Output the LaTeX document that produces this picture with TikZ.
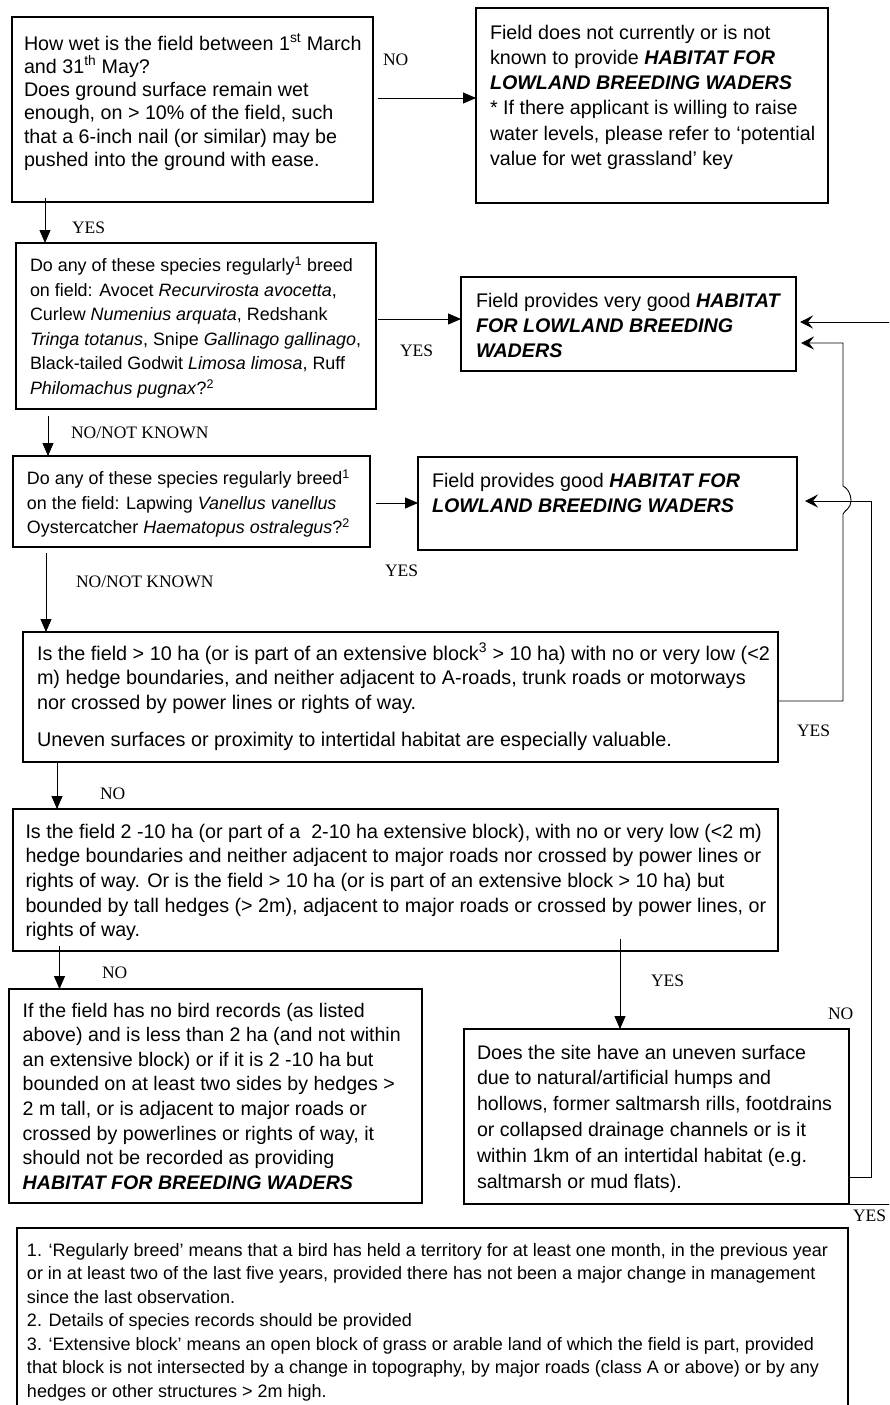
\documentclass[tikz,border=0pt]{standalone}
\usepackage{fontspec}
\setmainfont{Liberation Sans}
\newfontfamily\serifl{Liberation Serif}
\usetikzlibrary{arrows.meta,calc}
\newcommand{\HB}[1]{\textbf{\textit{#1}}}
\newcommand{\fsz}[2]{\fontsize{#1}{#2}\selectfont}
\tikzset{
  box/.style={draw=black, line width=1.1pt, inner sep=0pt, outer sep=0pt, anchor=north west},
  txt/.style={inner sep=0pt, outer sep=0pt, align=left, anchor=base west},
  lbl/.style={inner sep=0pt, outer sep=0pt, anchor=base west, font=\serifl\fsz{17.5}{20}},
  conn/.style={line width=0.9pt, draw=black},
  tri/.style={conn, -{Triangle[length=13pt,width=11pt]}},
  stl/.style={conn, -{Stealth[length=13pt,width=13pt,inset=5pt]}}
}
\begin{document}
\begin{tikzpicture}[x=1pt,y=-1pt]
\useasboundingbox (0,0) rectangle (889,1405);
\clip (0,0) rectangle (889,1405);
\fill[white] (0,0) rectangle (889,1405);

% boxes
\node[box, minimum width=361pt, minimum height=185pt] (b1) at (12,17) {};
\node[box, minimum width=352pt, minimum height=195pt] (b2) at (476,8) {};
\node[box, minimum width=360pt, minimum height=166pt] (b3) at (16,243) {};
\node[box, minimum width=335pt, minimum height=94pt] (b4) at (461,277) {};
\node[box, minimum width=357pt, minimum height=91pt] (b5) at (13,456) {};
\node[box, minimum width=379pt, minimum height=93pt] (b6) at (418,457) {};
\node[box, minimum width=755pt, minimum height=130pt] (b7) at (23,632) {};
\node[box, minimum width=765pt, minimum height=142pt] (b9) at (13,809) {};
\node[box, minimum width=413pt, minimum height=214pt] (b10) at (9,989) {};
\node[box, minimum width=385pt, minimum height=175pt] (b8) at (464,1029) {};
\node[box, minimum width=831pt, minimum height=220pt] (fn) at (17,1228) {};

% texts (anchor = baseline of the last line)
\node[txt, font=\fsz{19.7}{23.3}] (t1) at (24,166.5) {How wet is the field between 1\textsuperscript{st} March\\
and 31\textsuperscript{th} May?\\
Does ground surface remain wet\\
enough, on > 10\% of the field, such\\
that a 6-inch nail (or similar) may be\\
pushed into the ground with ease.};

\node[txt, font=\fsz{19.7}{25.3}] (t2) at (490,165.5) {Field does not currently or is not\\
known to provide \HB{HABITAT FOR}\\
\HB{LOWLAND BREEDING WADERS}\\
* If there applicant is willing to raise\\
water levels, please refer to ‘potential\\
value for wet grassland’ key};

\node[txt, font=\fsz{17.9}{24.6}] (t3) at (30,394.5) {Do any of these species regularly\textsuperscript{1} breed\\
on field: Avocet \textit{Recurvirosta avocetta},\\
Curlew \textit{Numenius arquata}, Redshank\\
\textit{Tringa totanus}, Snipe \textit{Gallinago gallinago},\\
Black-tailed Godwit \textit{Limosa limosa}, Ruff\\
\textit{Philomachus pugnax}?\textsuperscript{2}};

\node[txt, font=\fsz{19.7}{25}] (t4) at (476,357) {Field provides very good \HB{HABITAT}\\
\HB{FOR LOWLAND BREEDING}\\
\HB{WADERS}};

\node[txt, font=\fsz{17.9}{24.5}] (t5) at (27,533.5) {Do any of these species regularly breed\textsuperscript{1}\\
on the field: Lapwing \textit{Vanellus vanellus}\\
Oystercatcher \textit{Haematopus ostralegus}?\textsuperscript{2}};

\node[txt, font=\fsz{19.7}{25}] (t6) at (432,512) {Field provides good \HB{HABITAT FOR}\\
\HB{LOWLAND BREEDING WADERS}};

\node[txt, font=\fsz{19.8}{24.5}] (t7) at (37,746.5) {Is the field > 10 ha (or is part of an extensive block\textsuperscript{3} > 10 ha) with no or very low (<2\\
m) hedge boundaries, and neither adjacent to A-roads, trunk roads or motorways\\
nor crossed by power lines or rights of way.\\[13pt]
Uneven surfaces or proximity to intertidal habitat are especially valuable.};

\node[txt, font=\fsz{19.7}{24.7}] (t9) at (25.5,936.8) {Is the field 2 -10 ha (or part of a \ 2-10 ha extensive block), with no or very low (<2 m)\\
hedge boundaries and neither adjacent to major roads nor crossed by power lines or\\
rights of way. Or is the field > 10 ha (or is part of an extensive block > 10 ha) but\\
bounded by tall hedges (> 2m), adjacent to major roads or crossed by power lines, or\\
rights of way.};

\node[txt, font=\fsz{19.6}{24.6}] (t10) at (22.7,1189.2) {If the field has no bird records (as listed\\
above) and is less than 2 ha (and not within\\
an extensive block) or if it is 2 -10 ha but\\
bounded on at least two sides by hedges >\\
2 m tall, or is adjacent to major roads or\\
crossed by powerlines or rights of way, it\\
should not be recorded as providing\\
\HB{HABITAT FOR BREEDING WADERS}};

\node[txt, font=\fsz{19.6}{25.8}] (t8) at (477,1188) {Does the site have an uneven surface\\
due to natural/artificial humps and\\
hollows, former saltmarsh rills, footdrains\\
or collapsed drainage channels or is it\\
within 1km of an intertidal habitat (e.g.\\
saltmarsh or mud flats).};

\node[txt, font=\fsz{18}{23.5}] (tf) at (27,1397) {1. ‘Regularly breed’ means that a bird has held a territory for at least one month, in the previous year\\
or in at least two of the last five years, provided there has not been a major change in management\\
since the last observation.\\
2. Details of species records should be provided\\
3. ‘Extensive block’ means an open block of grass or arable land of which the field is part, provided\\
that block is not intersected by a change in topography, by major roads (class A or above) or by any\\
hedges or other structures > 2m high.};

% labels
\node[lbl] (l1) at (383,66) {NO};
\node[lbl] (l2) at (72,233) {YES};
\node[lbl] (l3) at (400,356) {YES};
\node[lbl] (l4) at (71,438) {NO/NOT KNOWN};
\node[lbl] (l5) at (385,576) {YES};
\node[lbl] (l6) at (76,587) {NO/NOT KNOWN};
\node[lbl] (l7) at (797,736) {YES};
\node[lbl] (l8) at (100,799) {NO};
\node[lbl] (l9) at (102,978) {NO};
\node[lbl] (l10) at (651,986) {YES};
\node[lbl] (l11) at (828,1019) {NO};
\node[lbl] (l12) at (853,1221) {YES};

% free-end coordinates
\coordinate (offR) at (895,1204);
\coordinate (inR) at (895,322);

% connectors
\draw[tri] ($(b1.east)+(5,-11.5)$) -- ($(b2.north west)+(0,90)$);
\draw[tri] ($(b1.south west)+(33,-4)$) -- ($(b3.north west)+(29,0)$);
\draw[tri] ($(b3.north east)+(2,76)$) -- ($(b4.north west)+(0,42)$);
\draw[tri] ($(b3.south west)+(32,7)$) -- ($(b5.north west)+(35,0)$);
\draw[tri] ($(b5.north east)+(6,47)$) -- ($(b6.north west)+(0,46)$);
\draw[tri] ($(b5.south west)+(33,6)$) -- ($(b7.north west)+(23,0)$);
\draw[tri] ($(b7.south west)+(34,0)$) -- ($(b9.north west)+(44,0)$);
\draw[tri] ($(b9.south west)+(46.5,-5)$) -- ($(b10.north west)+(50.5,0)$);
\draw[tri] ($(b9.south west)+(607,-12)$) -- ($(b8.north west)+(156,0)$);

% YES from b7 up to b4 (with hop over the b8 NO line)
\draw[stl, shorten >=5pt] ($(b7.north east)+(0,69)$) -| (843,514)
  .. controls (845,510) and (851,508) .. (851,501)
  .. controls (851,493) and (847,488) .. (843,486)
  |- ($(b4.north east)+(0,66)$);
% NO from b8 up to b6
\draw[stl, shorten >=8pt] ($(b8.north east)+(0,148)$) -- ++(22,0) |- ($(b6.north east)+(0,44)$);
% YES from b8 off to the right, returning into b4
\draw[conn] (b8.south east) -- (offR);
\draw[stl, shorten >=4pt] (inR) -- (b4.east |- inR);
\end{tikzpicture}
\end{document}
